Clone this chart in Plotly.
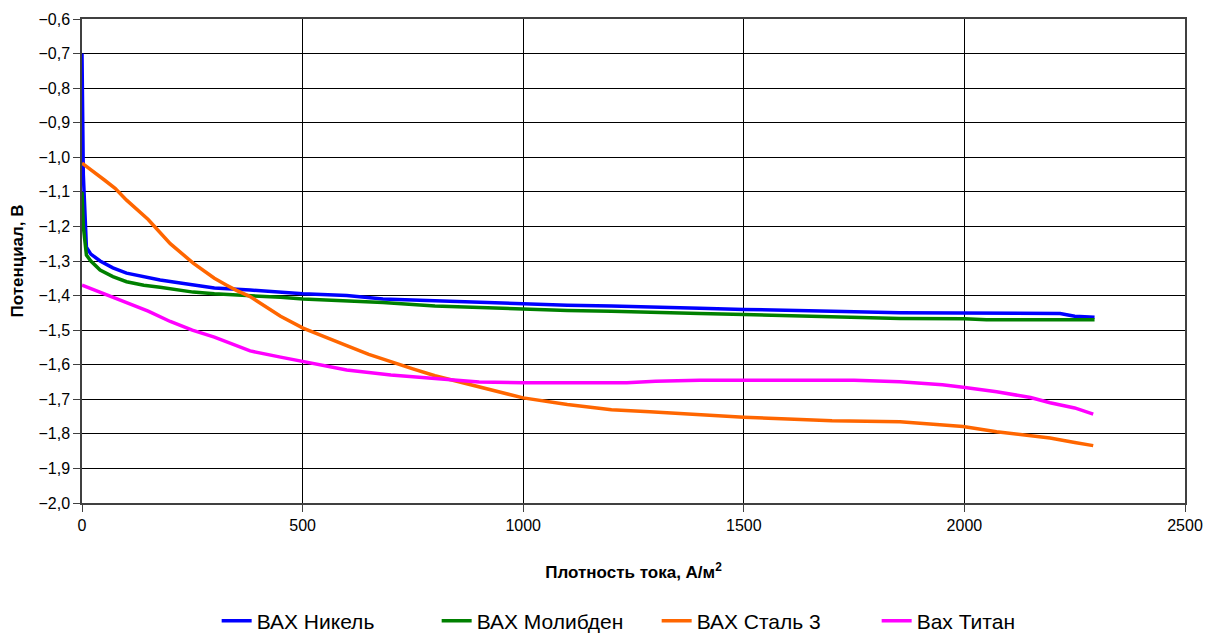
import plotly.graph_objects as go

# current density, A/m2
nickel_x = [0, 3, 10, 20, 41, 70, 101, 140, 177, 215, 252, 300, 381, 450, 501, 600, 682, 800, 900, 1000,
            1100, 1200, 1287, 1400, 1500, 1600, 1700, 1854, 2005, 2100, 2217, 2250, 2295]
nickel_y = [-0.70, -1.05, -1.26, -1.28, -1.30, -1.32, -1.335, -1.345, -1.355, -1.362, -1.37, -1.378, -1.384,
            -1.39, -1.395, -1.40, -1.41, -1.415, -1.42, -1.425, -1.428, -1.43, -1.432, -1.437, -1.44,
            -1.442, -1.445, -1.45, -1.451, -1.452, -1.452, -1.46, -1.463]

molyb_x = [0, 3, 10, 20, 41, 70, 101, 140, 177, 215, 252, 300, 381, 450, 501, 600, 682, 800, 900, 1000,
           1100, 1200, 1287, 1400, 1500, 1600, 1700, 1854, 2000, 2050, 2150, 2295]
molyb_y = [-1.10, -1.20, -1.283, -1.30, -1.326, -1.345, -1.36, -1.37, -1.376, -1.383, -1.39, -1.395, -1.40,
           -1.405, -1.41, -1.415, -1.42, -1.43, -1.435, -1.44, -1.443, -1.445, -1.447, -1.452, -1.455,
           -1.458, -1.46, -1.466, -1.467, -1.47, -1.47, -1.47]

steel_x = [0, 25, 50, 75, 101, 150, 177, 200, 252, 300, 328, 350, 381, 403, 450, 501, 550, 600, 650, 700,
           750, 800, 850, 900, 950, 1000, 1100, 1200, 1287, 1400, 1500, 1600, 1700, 1854, 1997, 2073,
           2194, 2250, 2292]
steel_y = [-1.017, -1.04, -1.065, -1.09, -1.124, -1.18, -1.219, -1.25, -1.306, -1.35, -1.37, -1.385,
           -1.403, -1.421, -1.46, -1.494, -1.52, -1.545, -1.57, -1.592, -1.612, -1.632, -1.648, -1.665,
           -1.68, -1.696, -1.715, -1.73, -1.736, -1.745, -1.752, -1.757, -1.762, -1.765, -1.779, -1.794,
           -1.812, -1.825, -1.834]

titan_x = [0, 50, 100, 150, 200, 250, 300, 381, 450, 501, 600, 700, 834, 900, 1000, 1100, 1235, 1300,
           1400, 1500, 1600, 1750, 1854, 1950, 1997, 2073, 2150, 2194, 2250, 2292]
titan_y = [-1.37, -1.395, -1.42, -1.445, -1.475, -1.50, -1.52, -1.56, -1.578, -1.591, -1.615, -1.63,
           -1.644, -1.65, -1.652, -1.652, -1.652, -1.648, -1.645, -1.645, -1.645, -1.645, -1.649, -1.658,
           -1.665, -1.678, -1.695, -1.71, -1.725, -1.743]

series = [
    ('ВАХ Никель', nickel_x, nickel_y, '#0000FF'),
    ('ВАХ Молибден', molyb_x, molyb_y, '#008000'),
    ('ВАХ Сталь 3', steel_x, steel_y, '#FF6600'),
    ('Вах Титан', titan_x, titan_y, '#FF00FF'),
]

FONT = 'Liberation Sans, Arial'

fig = go.Figure()
for name, xs, ys, color in series:
    fig.add_trace(go.Scatter(x=xs, y=ys, mode='lines', name=name,
                             line=dict(color=color, width=3.5)))

fig.update_xaxes(
    range=[0, 2500], dtick=500, tick0=0,
    showgrid=True, gridcolor='#000000', gridwidth=1,
    showline=True, linecolor='#404040', linewidth=1.5, mirror=True,
    ticks='outside', ticklen=7, tickcolor='#404040',
    zeroline=False, automargin=False,
    tickfont=dict(family=FONT, size=16, color='black'),
    title=dict(text='<b>Плотность тока, А/м<sup>2</sup></b>', standoff=33,
               font=dict(family=FONT, size=17, color='black')),
)
fig.update_yaxes(
    range=[-2.0, -0.6], dtick=0.1, tick0=-2.0, tickformat='.1f',
    showgrid=True, gridcolor='#000000', gridwidth=1,
    showline=True, linecolor='#404040', linewidth=1.5, mirror=True,
    ticks='outside', ticklen=7, tickcolor='#404040',
    zeroline=False, automargin=False,
    tickfont=dict(family=FONT, size=16, color='black'),
    title=dict(text='<b>Потенциал, В</b>', standoff=11,
               font=dict(family=FONT, size=17, color='black')),
)

fig.update_layout(
    width=1205, height=634,
    margin=dict(l=82, r=20, t=19, b=131, autoexpand=False),
    plot_bgcolor='white', paper_bgcolor='white',
    separators=', ',
    font=dict(family=FONT, color='black'),
    legend=dict(orientation='h', x=0.521, xanchor='center', y=-0.244, yanchor='middle',
                font=dict(size=21), entrywidth=175, entrywidthmode='pixels'),
)

# drop the default 8px body margin so the figure fills the window exactly
fig.write_html('out.html', config={'displayModeBar': False},
               post_script="document.body.style.margin='0';")
